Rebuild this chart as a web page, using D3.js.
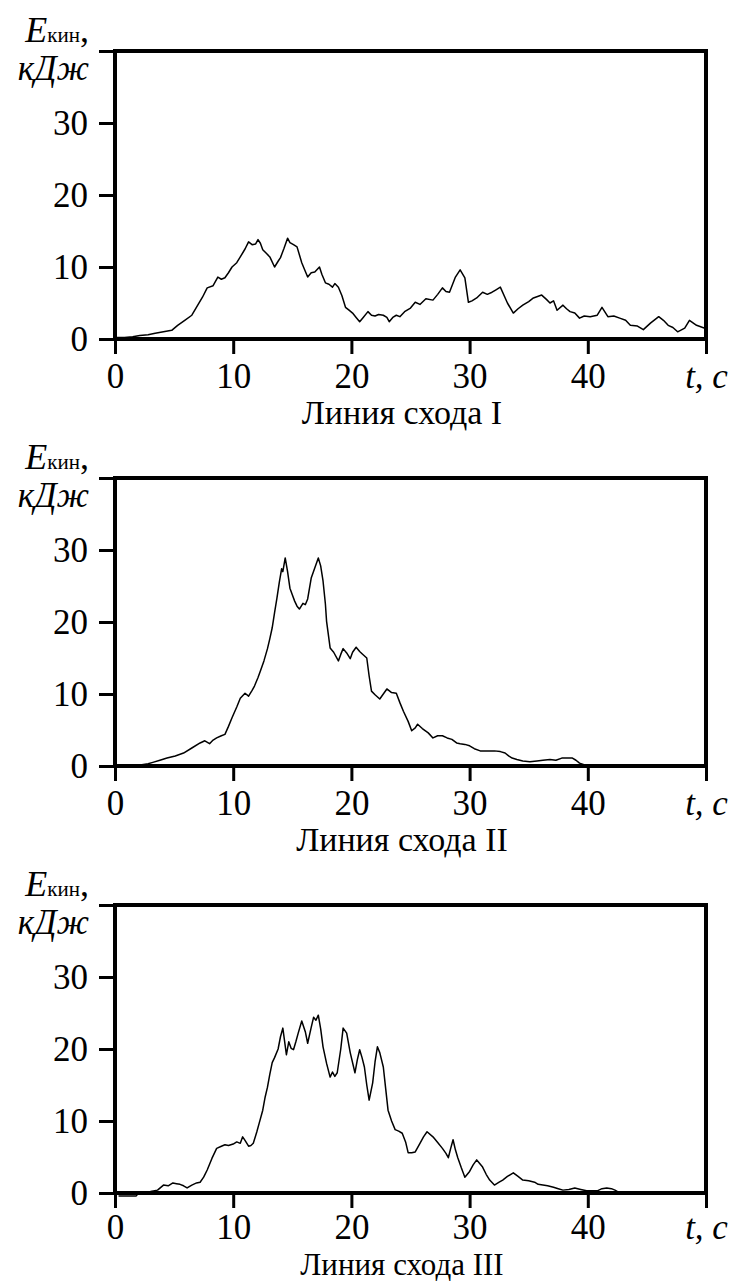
<!DOCTYPE html>
<html>
<head>
<meta charset="utf-8">
<script src="https://cdn.jsdelivr.net/npm/d3@7"></script>
<style>
  body { margin: 0; background: #fff; }
  svg { display: block; }
  svg text { font-family: "Liberation Serif", "Times New Roman", Times, "DejaVu Serif", serif; }
</style>
</head>
<body>
<div id="chart"></div>
<script>
// kinetic energy, kJ, vs time, s  ([t, E] pairs)
var lineI = [
  [0,0.2],[0.8,0.2],[1.5,0.3],[2.1,0.5],[2.8,0.6],[3.4,0.8],[4.1,1.0],[4.8,1.2],[5.3,1.9],[5.9,2.6],
  [6.5,3.3],[7.0,4.7],[7.4,5.8],[7.8,7.1],[8.3,7.4],[8.7,8.6],[9.0,8.3],[9.3,8.5],[9.6,9.2],[9.9,10.0],
  [10.3,10.6],[10.6,11.4],[11.0,12.5],[11.3,13.5],[11.6,13.1],[11.9,13.2],[12.1,13.8],[12.3,13.3],[12.5,12.4],[12.8,11.9],
  [13.1,11.4],[13.5,10.0],[13.8,10.8],[14.0,11.3],[14.3,12.6],[14.6,14.0],[14.8,13.4],[15.1,13.1],[15.4,12.8],[15.8,10.6],
  [16.0,9.8],[16.3,8.6],[16.6,9.2],[16.9,9.3],[17.3,10.0],[17.5,9.0],[17.8,7.8],[18.1,7.6],[18.4,7.2],[18.6,7.7],
  [18.9,7.2],[19.2,6.0],[19.5,4.4],[19.8,4.0],[20.1,3.6],[20.4,3.0],[20.7,2.4],[21.0,3.0],[21.4,3.8],[21.7,3.3],
  [22.0,3.2],[22.3,3.4],[22.7,3.3],[23.0,3.0],[23.2,2.4],[23.5,3.0],[23.8,3.3],[24.1,3.1],[24.5,3.8],[25.0,4.3],
  [25.4,5.1],[25.8,4.8],[26.3,5.6],[26.9,5.4],[27.3,6.2],[27.7,7.1],[28.0,6.6],[28.3,6.5],[28.8,8.6],[29.2,9.6],
  [29.6,8.5],[29.9,5.1],[30.2,5.3],[30.6,5.7],[31.1,6.5],[31.5,6.2],[31.9,6.5],[32.2,6.8],[32.6,7.2],[33.2,5.0],
  [33.7,3.6],[34.1,4.2],[34.5,4.7],[35.0,5.2],[35.4,5.7],[36.1,6.1],[36.5,5.5],[36.8,5.0],[37.1,5.3],[37.4,4.0],
  [37.9,4.7],[38.2,4.2],[38.5,3.8],[38.9,3.6],[39.3,2.9],[39.7,3.2],[40.2,3.1],[40.8,3.3],[41.2,4.4],[41.7,3.1],
  [42.2,3.2],[42.7,2.9],[43.2,2.6],[43.6,1.9],[44.2,1.8],[44.7,1.3],[45.3,2.2],[46.0,3.1],[46.4,2.6],[46.8,1.9],
  [47.2,1.6],[47.6,1.0],[48.2,1.5],[48.6,2.6],[49.2,1.9],[49.9,1.5]
];

var lineII = [
  [0,0],[1.0,0],[2.0,0.1],[2.8,0.3],[3.2,0.5],[3.8,0.8],[4.4,1.1],[5.1,1.4],[5.8,1.8],[6.5,2.5],
  [7.2,3.2],[7.6,3.5],[8.0,3.1],[8.3,3.6],[8.6,3.9],[9.0,4.2],[9.3,4.4],[9.6,5.5],[9.9,6.7],[10.3,8.2],
  [10.6,9.4],[11.0,10.1],[11.3,9.7],[11.6,10.5],[11.8,11.1],[12.1,12.3],[12.3,13.2],[12.6,14.6],[12.9,16.3],[13.1,17.7],
  [13.3,19.2],[13.5,21.3],[13.7,23.3],[13.9,25.5],[14.1,27.4],[14.2,27.0],[14.4,28.9],[14.6,27.0],[14.8,24.7],[15.0,23.8],
  [15.2,22.9],[15.4,22.2],[15.6,21.8],[15.9,22.6],[16.1,22.4],[16.3,23.2],[16.6,26.1],[16.9,27.5],[17.2,28.9],[17.4,27.8],
  [17.6,25.7],[17.8,22.5],[17.9,20.1],[18.2,16.4],[18.5,15.8],[18.9,14.6],[19.1,15.5],[19.3,16.3],[19.6,15.7],[19.9,14.9],
  [20.1,15.8],[20.4,16.5],[20.7,15.9],[20.9,15.6],[21.3,15.0],[21.5,12.5],[21.7,10.4],[22.0,9.9],[22.4,9.3],[22.7,10.0],
  [23.0,10.7],[23.4,10.2],[23.8,10.1],[24.1,8.8],[24.4,7.6],[24.8,6.2],[25.1,4.9],[25.4,5.3],[25.6,5.8],[26.0,5.2],
  [26.5,4.6],[26.9,3.9],[27.3,4.2],[27.7,4.2],[28.1,3.9],[28.5,3.7],[28.9,3.2],[29.2,3.1],[29.6,3.0],[30.0,2.8],
  [30.4,2.4],[30.9,2.1],[31.5,2.1],[32.1,2.1],[32.6,2.0],[33.0,1.8],[33.3,1.4],[33.6,1.1],[34.0,0.9],[34.5,0.7],
  [35.1,0.6],[35.7,0.7],[36.2,0.8],[36.8,0.9],[37.3,0.8],[37.8,1.1],[38.3,1.1],[38.7,1.1],[39.0,0.8],[39.3,0.4],
  [39.8,0.1],[40.5,0],[50,0]
];

var lineIII = [
  [0.3,-0.4],[1.8,-0.4],[2.0,0],[2.4,0.1],[3.0,0.2],[3.6,0.4],[4.1,1.1],[4.5,1.0],[4.9,1.4],[5.2,1.3],
  [5.5,1.2],[5.8,1.0],[6.1,0.7],[6.5,1.1],[6.9,1.4],[7.2,1.5],[7.5,2.2],[7.8,3.2],[8.2,4.8],[8.6,6.2],
  [9.0,6.5],[9.3,6.7],[9.6,6.6],[10.0,6.8],[10.3,7.1],[10.6,6.9],[10.8,7.8],[11.0,7.3],[11.3,6.5],[11.5,6.6],
  [11.7,6.9],[12.0,8.5],[12.2,9.7],[12.5,11.5],[12.7,13.3],[12.9,14.7],[13.1,16.5],[13.3,18.1],[13.5,18.8],[13.8,20.0],
  [14.0,21.7],[14.2,22.9],[14.5,19.2],[14.7,21.0],[14.9,20.1],[15.1,19.9],[15.3,21.0],[15.5,22.2],[15.8,23.9],[16.1,22.4],
  [16.3,20.8],[16.6,23.0],[16.8,24.4],[17.0,24.0],[17.2,24.7],[17.4,22.8],[17.6,20.3],[17.9,18.0],[18.2,16.1],[18.4,16.8],
  [18.6,16.2],[18.8,16.7],[19.1,20.0],[19.3,22.9],[19.6,22.2],[19.9,19.5],[20.3,16.7],[20.5,18.5],[20.7,19.9],[20.9,18.8],
  [21.1,17.5],[21.3,15.0],[21.5,12.9],[21.8,15.3],[22.0,18.2],[22.2,20.3],[22.4,19.5],[22.7,17.5],[22.9,14.5],[23.1,11.5],
  [23.4,10.0],[23.7,8.8],[24.0,8.6],[24.3,8.3],[24.6,7.0],[24.8,5.6],[25.1,5.6],[25.4,5.7],[25.8,6.9],[26.1,7.8],
  [26.4,8.5],[26.9,7.8],[27.3,7.0],[27.7,6.2],[28.0,5.5],[28.2,4.9],[28.4,6.2],[28.6,7.4],[28.8,6.0],[29.0,4.9],
  [29.3,3.5],[29.6,2.2],[30.0,3.0],[30.3,3.9],[30.6,4.6],[30.8,4.2],[31.1,3.6],[31.4,2.6],[31.7,1.8],[32.1,1.1],
  [32.5,1.5],[32.8,1.8],[33.2,2.3],[33.7,2.8],[34.1,2.3],[34.5,1.8],[35.0,1.7],[35.5,1.5],[35.8,1.2],[36.2,1.1],
  [36.6,1.0],[37.1,0.8],[37.5,0.6],[37.9,0.4],[38.4,0.5],[38.9,0.7],[39.4,0.5],[39.9,0.3],[40.4,0.3],[40.8,0.3],
  [41.2,0.6],[41.6,0.7],[42.0,0.6],[42.3,0.4],[42.7,0],[50,0]
];

var xTicks = [0, 10, 20, 30, 40, 50];
var yTicks = [0, 10, 20, 30, 40];
var titles = ["Линия схода I", "Линия схода II", "Линия схода III"];
var series = [lineI, lineII, lineIII];

var W = 734, H = 1281;
var panelStep = 427;

var svg = d3.select("#chart").append("svg")
    .attr("width", W)
    .attr("height", H);

var x = d3.scaleLinear().domain([0, 50]).range([115, 706]);
var y = d3.scaleLinear().domain([0, 40]).range([339, 51]);

var valueline = d3.line()
    .x(function(d) { return x(d[0]); })
    .y(function(d) { return y(d[1]); });

series.forEach(function(data, i) {
  var last = (i === series.length - 1);   // bottom panel is squeezed against the page edge
  var g = svg.append("g")
      .attr("transform", "translate(0," + (i * panelStep) + ")");

  // the curve
  g.append("path")
    .datum(data)
    .attr("fill", "none")
    .attr("stroke", "#000")
    .attr("stroke-width", 1.5)
    .attr("stroke-linejoin", "round")
    .attr("d", valueline);

  // frame
  g.append("rect")
    .attr("x", x(0))
    .attr("y", y(40))
    .attr("width", x(50) - x(0))
    .attr("height", y(0) - y(40))
    .attr("fill", "none")
    .attr("stroke", "#000")
    .attr("stroke-width", 4);

  // Y axis
  var yAxis = g.append("g")
    .attr("transform", "translate(" + x(0) + ",0)")
    .call(d3.axisLeft(y).tickValues(yTicks).tickSize(16).tickPadding(11)
      .tickFormat(function(d) { return d === 40 ? "" : d; }));
  yAxis.attr("font-family", null);
  yAxis.select(".domain").remove();
  yAxis.selectAll(".tick line").attr("stroke-width", 3);
  yAxis.selectAll("text")
    .style("font-size", "35px")
    .attr("fill", "#000");

  // X axis
  var xAxis = g.append("g")
    .attr("transform", "translate(0," + y(0) + ")")
    .call(d3.axisBottom(x).tickValues(xTicks).tickSize(15).tickPadding(last ? 6 : 9)
      .tickFormat(function(d) { return d === 50 ? "t, c" : d; }));
  xAxis.attr("font-family", null);
  xAxis.select(".domain").remove();
  xAxis.selectAll(".tick line").attr("stroke-width", 3);
  xAxis.selectAll("text")
    .style("font-size", "35px")
    .attr("fill", "#000")
    .style("font-style", function(d) { return d === 50 ? "italic" : "normal"; });

  // Y label
  var lab = g.append("text")
    .attr("x", 89)
    .attr("y", 42)
    .attr("text-anchor", "end");
  lab.append("tspan").style("font-size", "36px").style("font-style", "italic").text("E");
  lab.append("tspan").style("font-size", "21px").text("кин");
  lab.append("tspan").style("font-size", "36px").text(",");

  g.append("text")
    .attr("x", 89)
    .attr("y", 80)
    .attr("text-anchor", "end")
    .style("font-size", "35px")
    .style("font-style", "italic")
    .text("кДж");

  // caption
  g.append("text")
    .attr("x", 402)
    .attr("y", last ? 421 : 424)
    .attr("text-anchor", "middle")
    .style("font-size", last ? "31px" : "34px")
    .text(titles[i]);
});
</script>
</body>
</html>
